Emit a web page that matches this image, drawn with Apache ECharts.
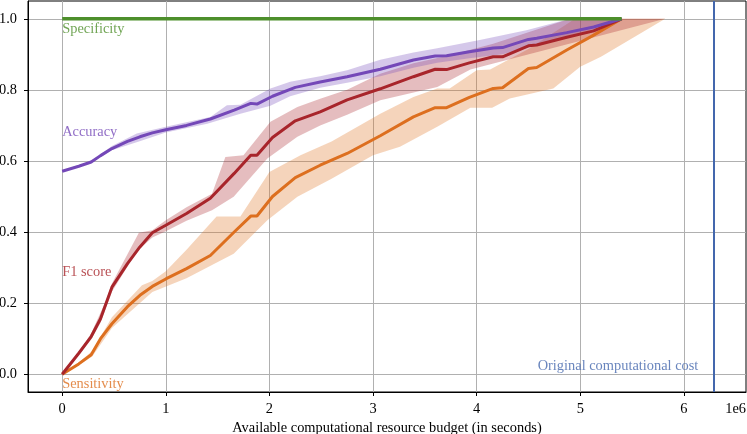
<!doctype html>
<html lang="en-US">

<head>
    <meta charset="utf-8" />
    <title>Metrics vs computational budget</title>
    <script type="text/javascript" src="https://cdn.jsdelivr.net/npm/echarts@6/dist/echarts.min.js"></script>
    <style>
        html, body { margin: 0; padding: 0; background: #fff; }
        #chart { width: 747px; height: 434px; }
    </style>
</head>

<body>
    <div id="chart"></div>
</body>

<script type="text/javascript">
    // budget in units of 1e6 seconds
    let budget = [0, 0.16, 0.28, 0.37, 0.48, 0.63, 0.75, 0.87, 1.0, 1.2, 1.43, 1.66, 1.82, 1.88, 2.03,
        2.25, 2.49, 2.75, 3.07, 3.39, 3.6, 3.71, 3.93, 4.16, 4.25, 4.5, 4.58, 4.87, 5.13, 5.4];

    let specificity = [1, 1, 1, 1, 1, 1, 1, 1, 1, 1, 1, 1, 1, 1, 1,
        1, 1, 1, 1, 1, 1, 1, 1, 1, 1, 1, 1, 1, 1, 1];
    let accuracy = [0.571, 0.585, 0.597, 0.615, 0.635, 0.655, 0.668, 0.679, 0.688, 0.700, 0.718, 0.743, 0.762, 0.760, 0.782,
        0.807, 0.822, 0.837, 0.858, 0.884, 0.895, 0.896, 0.907, 0.918, 0.919, 0.942, 0.945, 0.961, 0.977, 1.0];
    let f1 = [0, 0.059, 0.106, 0.156, 0.245, 0.311, 0.358, 0.398, 0.419, 0.452, 0.495, 0.565, 0.616, 0.616, 0.666,
        0.713, 0.738, 0.772, 0.803, 0.837, 0.858, 0.857, 0.876, 0.893, 0.893, 0.924, 0.926, 0.948, 0.966, 1.0];
    let sensitivity = [0, 0.029, 0.055, 0.10, 0.142, 0.19, 0.222, 0.247, 0.268, 0.297, 0.334, 0.400, 0.445, 0.445, 0.500,
        0.553, 0.588, 0.621, 0.671, 0.724, 0.750, 0.750, 0.779, 0.804, 0.806, 0.860, 0.863, 0.912, 0.954, 1.0];

    // spread bands: [budget, value] along the upper and lower edge
    let accUpper = [[0, 0.573], [0.28, 0.600], [0.48, 0.642], [0.72, 0.677], [1.0, 0.696], [1.43, 0.724], [1.59, 0.757],
        [1.72, 0.758], [2.01, 0.804], [2.2, 0.823], [2.49, 0.838], [2.75, 0.855], [3.07, 0.885], [3.39, 0.905],
        [3.62, 0.917], [4.03, 0.94], [4.48, 0.968], [4.9, 1.0], [5.4, 1.0]];
    let accLower = [[0, 0.569], [0.28, 0.594], [0.48, 0.630], [0.755, 0.656], [1.0, 0.680], [1.4, 0.705], [1.72, 0.733],
        [2.01, 0.755], [2.2, 0.782], [2.49, 0.806], [2.75, 0.82], [3.07, 0.838], [3.39, 0.862], [3.62, 0.876],
        [3.93, 0.889], [4.25, 0.900], [4.58, 0.925], [4.87, 0.945], [5.13, 0.965], [5.4, 1.0]];

    let f1Upper = [[0, 0], [0.16, 0.062], [0.28, 0.115], [0.42, 0.205], [0.48, 0.255], [0.74, 0.398], [0.87, 0.405],
        [1.0, 0.433], [1.2, 0.47], [1.446, 0.508], [1.575, 0.611], [1.75, 0.616], [2.01, 0.71], [2.27, 0.752],
        [2.49, 0.775], [2.75, 0.80], [3.07, 0.845], [3.39, 0.875], [3.71, 0.895], [4.16, 0.93], [4.5, 0.962],
        [4.9, 1.0], [5.4, 1.0]];
    let f1Lower = [[0, 0], [0.16, 0.055], [0.28, 0.098], [0.37, 0.145], [0.48, 0.232], [0.72, 0.345], [0.87, 0.385],
        [1.0, 0.402], [1.2, 0.432], [1.446, 0.461], [1.655, 0.499], [1.98, 0.607], [2.27, 0.668], [2.49, 0.700],
        [2.75, 0.73], [3.07, 0.771], [3.62, 0.808], [3.94, 0.857], [5.82, 1.0]];

    let sensUpper = [[0, 0], [0.16, 0.033], [0.29, 0.065], [0.48, 0.16], [0.77, 0.25], [0.87, 0.262], [1.0, 0.29],
        [1.2, 0.35], [1.49, 0.444], [1.72, 0.444], [2.0, 0.569], [2.3, 0.616], [2.6, 0.655], [3.07, 0.733],
        [3.39, 0.78], [3.62, 0.804], [3.74, 0.804], [4.0, 0.855], [4.13, 0.857], [4.5, 0.915], [4.95, 1.0], [5.4, 1.0]];
    let sensLower = [[0, 0], [0.16, 0.025], [0.29, 0.05], [0.48, 0.13], [0.87, 0.231], [1.2, 0.27], [1.655, 0.339],
        [1.98, 0.433], [2.27, 0.499], [2.6, 0.55], [3.0, 0.616], [3.26, 0.64], [3.62, 0.696], [3.94, 0.75],
        [4.15, 0.75], [4.32, 0.776], [4.74, 0.804], [5.0, 0.865], [5.2, 0.893], [5.82, 1.0]];

    let originalCost = 6.287;

    let xTicks = [0, 1, 2, 3, 4, 5, 6];
    let yTicks = [0, 0.2, 0.4, 0.6, 0.8, 1.0];

    // in-plot text labels
    let noteText = ["Specificity", "Accuracy", "F1 score", "Sensitivity", "Original computational cost"];
    let noteX = [0, 0, 0, 0, 6.14];
    let noteY = [0.970, 0.682, 0.286, -0.029, 0.0215];

    let c_spec = "#4d8f2b";
    let c_acc = "#7448b8";
    let c_f1 = "#a8252b";
    let c_sens = "#dd6f1f";
    let c_cost = "#4467ad";
    let noteColor = [c_spec, c_acc, c_f1, c_sens, c_cost];

    let font = "'Liberation Serif', 'DejaVu Serif', serif";
    let fsize = 14.4;

    let band = function (name, upper, lower, color) {
        return {
            type: 'custom',
            name: name,
            silent: true,
            z: 1,
            clip: true,
            data: [[0, 0]],
            renderItem: function (params, api) {
                let pts = upper.map(p => api.coord(p))
                    .concat(lower.slice().reverse().map(p => api.coord(p)));
                return {
                    type: 'polygon',
                    shape: { points: pts },
                    style: { fill: color, opacity: 0.3 }
                };
            }
        };
    };

    let line = function (name, values, color, width) {
        return {
            type: 'line',
            name: name,
            z: 3,
            showSymbol: false,
            silent: true,
            lineStyle: { color: color, width: width || 3 },
            itemStyle: { color: color },
            data: budget.map((b, i) => [b, values[i]])
        };
    };

    let notes = noteText.map(function (t, i) {
        let last = i == noteText.length - 1;
        return {
            value: [noteX[i], noteY[i]],
            label: {
                show: true,
                formatter: t,
                position: last ? 'left' : 'right',
                distance: 0,
                color: noteColor[i],
                fontFamily: font,
                fontSize: fsize
            }
        };
    });

    let option = {
        animation: false,
        grid: {
            left: 28, right: 1, top: 1, bottom: 42,
            outerBoundsMode: 'none',
            containLabel: false,
            show: true, borderColor: '#000', borderWidth: 1, backgroundColor: 'transparent'
        },
        xAxis: {
            type: 'value',
            min: -0.33,
            max: 6.6,
            name: 'Available computational resource budget (in seconds)',
            nameLocation: 'middle',
            nameGap: 27,
            nameTextStyle: { fontFamily: font, fontSize: fsize, color: '#000' },
            axisLine: { onZero: false, lineStyle: { color: '#000', width: 1 } },
            axisTick: { show: true, length: 4, customValues: xTicks, lineStyle: { color: '#000' } },
            axisLabel: {
                customValues: xTicks, margin: 10,
                fontFamily: font, fontSize: fsize, color: '#000',
                formatter: v => String(Math.round(v))
            },
            splitLine: { show: true, lineStyle: { color: '#b0b0b0', width: 1 } }
        },
        yAxis: {
            type: 'value',
            min: -0.05,
            max: 1.05,
            axisLine: { show: true, onZero: false, lineStyle: { color: '#000', width: 1 } },
            axisTick: { show: true, length: 4, customValues: yTicks, lineStyle: { color: '#000' } },
            axisLabel: {
                customValues: yTicks, margin: 11,
                fontFamily: font, fontSize: fsize, color: '#000',
                formatter: v => v.toFixed(1)
            },
            splitLine: { show: true, lineStyle: { color: '#b0b0b0', width: 1 } }
        },
        graphic: [{
            type: 'text',
            right: 1,
            top: 402,
            style: { text: '1e6', fontFamily: font, fontSize: fsize, fill: '#000' }
        }],
        series: [
            band('Sensitivity band', sensUpper, sensLower, c_sens),
            band('F1 band', f1Upper, f1Lower, c_f1),
            band('Accuracy band', accUpper, accLower, c_acc),
            line('Sensitivity', sensitivity, c_sens),
            line('F1 score', f1, c_f1),
            line('Accuracy', accuracy, c_acc),
            line('Specificity', specificity, c_spec, 3.5),
            {
                type: 'line',
                name: 'cost',
                data: [],
                silent: true,
                markLine: {
                    symbol: 'none',
                    silent: true,
                    label: { show: false },
                    lineStyle: { color: c_cost, width: 2, type: 'solid' },
                    data: [{ xAxis: originalCost }]
                }
            },
            {
                type: 'scatter',
                name: 'notes',
                symbolSize: 0,
                silent: true,
                z: 4,
                data: notes
            }
        ]
    };

    let myChart = echarts.init(document.getElementById('chart'), null, { renderer: 'canvas' });
    myChart.setOption(option);
</script>

</html>
